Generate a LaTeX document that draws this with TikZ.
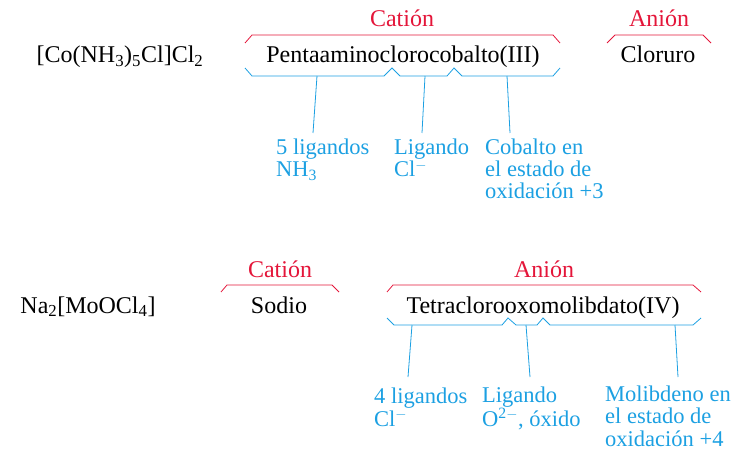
\documentclass[tikz,border=0pt]{standalone}
\usepackage{fontspec}
\setmainfont{Liberation Serif}

\definecolor{ionred}{RGB}{228,22,58}
\definecolor{partblue}{RGB}{28,160,226}

\begin{document}
\begin{tikzpicture}[x=1pt, y=-1pt,
    every node/.style={font=\fontsize{24}{22.5}\selectfont, inner sep=0pt},
    ionbrace/.style={draw=ionred, line width=0.8pt},
    partbrace/.style={draw=partblue, line width=0.8pt},
    ionlabel/.style={text=ionred, anchor=base},
    cname/.style={anchor=base},
    partlabel/.style={text=partblue, anchor=base west, align=left,
      font=\fontsize{22.5}{22.2}\selectfont}]
  \useasboundingbox (0,0) rectangle (733,449);

  % First compound
  \node[cname] (formA) at (120,63) {[Co(NH\textsubscript{3})\textsubscript{5}Cl]Cl\textsubscript{2}};
  \node[cname] (nameA) at (403,63) {Pentaaminoclorocobalto(III)};
  \node[cname] (cloruro) at (658,63) {Cloruro};

  % Cation and anion braces on top
  \draw[ionbrace] (245,43) -- (252,35) -- (553,35) -- (560,43);
  \node[ionlabel] (catA) at (402,27) {Catión};
  \draw[ionbrace] (607,43) -- (615,35) -- (703,35) -- (711,43);
  \node[ionlabel] (anA) at (659,27) {Anión};

  % Parts of the name (node base = last line)
  \draw[partbrace] (245,68) -- (252,76) -- (384,76) -- (392,68) -- (400,76)
    -- (447,76) -- (454,68) -- (462,76) -- (553,76) -- (560,68);
  \coordinate (a1) at (317,76);
  \coordinate (a2) at (425,76);
  \coordinate (a3) at (507,76);
  \coordinate (a1e) at (313,133);
  \coordinate (a2e) at (422,133);
  \coordinate (a3e) at (510,133);
  \draw[partbrace] (a1) -- (a1e);
  \draw[partbrace] (a2) -- (a2e);
  \draw[partbrace] (a3) -- (a3e);

  \node[partlabel] (ligA) at (276,177) {5 ligandos\\NH\textsubscript{3}};
  \node[partlabel] (clA) at (394,177) {Ligando\\Cl\textsuperscript{$-$}};
  \node[partlabel] (coA) at (485,199) {Cobalto en\\el estado de\\oxidación +3};

  % Second compound
  \node[cname] (formB) at (88,313) {Na\textsubscript{2}[MoOCl\textsubscript{4}]};
  \node[cname] (sodio) at (279,313) {Sodio};
  \node[cname] (nameB) at (543,313) {Tetraclorooxomolibdato(IV)};

  \draw[ionbrace] (221,292) -- (227,285) -- (332,285) -- (339,292);
  \node[ionlabel] (catB) at (280,277) {Catión};
  \draw[ionbrace] (387,292) -- (393,285) -- (693,285) -- (701,292);
  \node[ionlabel] (anB) at (544,277) {Anión};

  \draw[partbrace] (387,318) -- (394,325) -- (502,325) -- (508,318) -- (516,325)
    -- (537,325) -- (543,318) -- (550,325) -- (693,325) -- (701,318);
  \coordinate (b1) at (412,325);
  \coordinate (b2) at (526,325);
  \coordinate (b3) at (675,325);
  \coordinate (b1e) at (408,377);
  \coordinate (b2e) at (530,377);
  \coordinate (b3e) at (678,377);
  \draw[partbrace] (b1) -- (b1e);
  \draw[partbrace] (b2) -- (b2e);
  \draw[partbrace] (b3) -- (b3e);

  \node[partlabel] (ligB) at (374,426) {4 ligandos\\Cl\textsuperscript{$-$}};
  \node[partlabel] (oxB) at (482,426) {Ligando\\O\textsuperscript{2$-$}, óxido};
  \node[partlabel] (moB) at (605,446) {Molibdeno en\\el estado de\\oxidación +4};

\end{tikzpicture}
\end{document}
